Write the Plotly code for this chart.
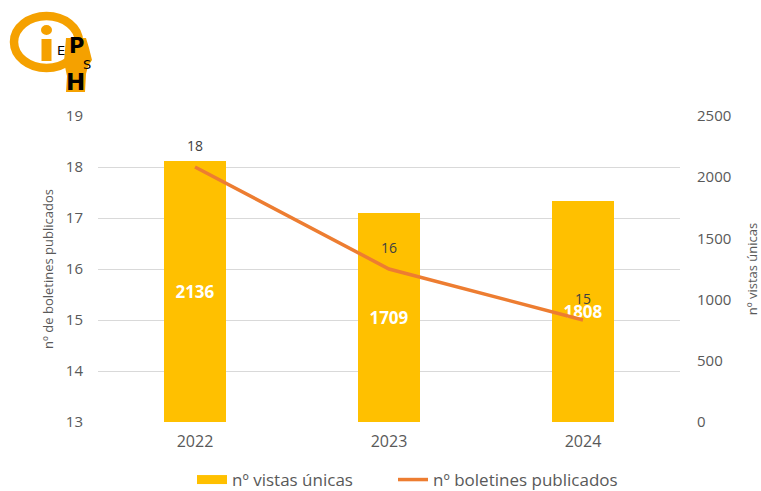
import plotly.graph_objects as go

years = ["2022", "2023", "2024"]
vistas = [2136, 1709, 1808]
boletines = [18, 16, 15]

W, H = 761, 491
L, R, T, B = 98, 81, 116, 69
pw, ph = W - L - R, H - T - B

def px(x):
    return (x - L) / pw

def py(y):
    return (H - B - y) / ph

FONT = "Open Sans"
GRAY = "#595959"
ORANGE_LOGO = "#F5A100"
BAR_C = "#FFC000"
LINE_C = "#ED7D31"

fig = go.Figure()
fig.add_trace(go.Bar(
    x=years, y=vistas, name="nº vistas únicas", yaxis="y", showlegend=False,
    marker=dict(color=BAR_C, line=dict(width=0)), width=0.315,
    text=[str(v) for v in vistas], textposition="inside", insidetextanchor="middle",
    textfont=dict(color="white", size=17, family=FONT, weight="bold"),
    textangle=0,
))
# legend entry for the bars (wide flat swatch like the reference)
fig.add_trace(go.Scatter(
    x=[None], y=[None], name="nº vistas únicas", mode="lines",
    line=dict(color=BAR_C, width=9), yaxis="y", legend="legend",
))
fig.add_trace(go.Scatter(
    x=years, y=boletines, name="nº boletines publicados", yaxis="y2",
    mode="lines", line=dict(color=LINE_C, width=3.5), legend="legend2",
))
for i, b in enumerate(boletines):
    fig.add_annotation(x=i, y=b, xref="x", yref="y2", text=str(b), showarrow=False,
                       yshift=22, font=dict(size=14, color="#404040", family=FONT))

# logo
def pth(pts):
    s = "M %f,%f " % (px(pts[0][0]), py(pts[0][1]))
    for a, b in pts[1:]:
        s += "L %f,%f " % (px(a), py(b))
    return s + "Z"

shapes = []
shapes.append(dict(type="circle", xref="paper", yref="paper",
                   x0=px(14), x1=px(79), y0=py(16), y1=py(68),
                   line=dict(color=ORANGE_LOGO, width=8.5), fillcolor="rgba(0,0,0,0)", layer="above"))
shapes.append(dict(type="circle", xref="paper", yref="paper",
                   x0=px(41), x1=px(52), y0=py(25), y1=py(35),
                   line=dict(width=0), fillcolor=ORANGE_LOGO, layer="above"))
shapes.append(dict(type="rect", xref="paper", yref="paper",
                   x0=px(41.5), x1=px(51.5), y0=py(39), y1=py(61),
                   line=dict(width=0), fillcolor=ORANGE_LOGO, layer="above"))
shapes.append(dict(type="path", xref="paper", yref="paper",
                   path=pth([(66, 38), (86, 38), (89, 48), (92, 60), (88, 66), (86, 74),
                             (85, 92), (66, 92), (67, 76), (64, 62)]),
                   line=dict(width=0), fillcolor=ORANGE_LOGO, layer="above"))
fig.update_layout(shapes=shapes)
for txt, x, y, s in [("E", 61, 50, 13), ("P", 76, 46, 21), ("S", 87, 65, 13), ("H", 75, 82, 23)]:
    fig.add_annotation(x=px(x), y=py(y), xref="paper", yref="paper",
                       text="<b>%s</b>" % txt if txt in "PH" else txt,
                       showarrow=False, font=dict(size=s, color="black", family="DejaVu Sans"),
                       xanchor="center", yanchor="middle")

leg_common = dict(orientation="h", y=py(480), yanchor="middle", xanchor="left",
                  font=dict(size=17, color=GRAY, family=FONT), bgcolor="rgba(0,0,0,0)")

fig.update_layout(
    width=W, height=H,
    margin=dict(l=L, r=R, t=T, b=B, autoexpand=False),
    paper_bgcolor="white", plot_bgcolor="white",
    font=dict(family=FONT, color=GRAY),
    showlegend=True,
    legend=dict(x=px(192), **leg_common),
    legend2=dict(x=px(393), **leg_common),
    xaxis=dict(type="category", range=[-0.5, 2.5], showgrid=False, showline=False,
               tickfont=dict(size=16, color=GRAY), ticks="", ticklabelstandoff=8),
    yaxis=dict(range=[0, 2500], dtick=500, side="right", showgrid=False,
               zeroline=False, showline=False, tickfont=dict(size=15, color=GRAY),
               ticklabelstandoff=16,
               title=dict(text="nº vistas únicas", font=dict(size=13, color=GRAY), standoff=20)),
    yaxis2=dict(range=[13, 19], dtick=1, overlaying="y", side="left", showgrid=True,
                gridcolor="#D9D9D9", gridwidth=1,
                zeroline=False, showline=False, tickfont=dict(size=15, color=GRAY),
                ticklabelstandoff=14,
                title=dict(text="nº de boletines publicados", font=dict(size=13, color=GRAY), standoff=9)),
    bargap=0,
)

fig.write_html("out.html", config={"displayModeBar": False},
               post_script="document.body.style.margin='0px';")
